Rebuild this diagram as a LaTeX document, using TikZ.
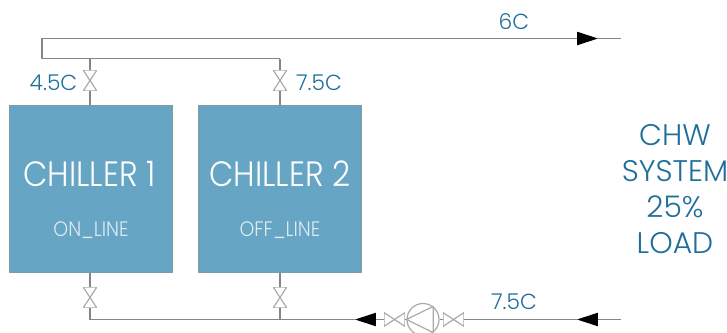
\documentclass[tikz,border=0pt]{standalone}
\usepackage{fontspec}
\setmainfont{Poppins Light}
\newfontfamily\chillerfont{Poppins Light}[FakeStretch=0.9]
\usetikzlibrary{arrows.meta}
\definecolor{chillerblue}{HTML}{66A5C4}
\definecolor{chilleredge}{HTML}{7F99A8}
\definecolor{labelteal}{HTML}{1F6E9A}
\definecolor{pipegrey}{HTML}{858585}
\definecolor{valvegrey}{HTML}{ABABAB}
\definecolor{statuspale}{HTML}{DCEBF3}

\begin{document}
\begin{tikzpicture}[
  x=0.25mm,
  y=-0.25mm,
  line join=round,
  pipe/.style={draw=pipegrey,line width=0.3mm},
  flow/.style={pipe,-{Triangle[length=5.2mm,width=3.3mm,black]}},
  chiller/.style={draw=chilleredge,line width=0.25mm,fill=chillerblue,minimum width=40.75mm,minimum height=41.75mm,inner sep=0pt},
  valvev/.style={minimum width=3.4mm,minimum height=5.2mm,inner sep=0pt,path picture={
    \draw[valvegrey,line width=0.3mm] (path picture bounding box.south west) -- (path picture bounding box.north east)
      -- (path picture bounding box.north west) -- (path picture bounding box.south east) -- cycle;}},
  valveh/.style={minimum width=5.2mm,minimum height=3.4mm,inner sep=0pt,path picture={
    \draw[valvegrey,line width=0.3mm] (path picture bounding box.south west) -- (path picture bounding box.north east)
      -- (path picture bounding box.south east) -- (path picture bounding box.north west) -- cycle;}},
  pumpbody/.style={circle,draw=valvegrey,line width=0.3mm,minimum size=8mm,inner sep=0pt},
  templabel/.style={text=labelteal,font=\fontsize{15.5}{18}\selectfont,inner sep=0pt},
  titletext/.style={text=white,font=\chillerfont\fontsize{25}{29}\selectfont,inner sep=0pt},
  statustext/.style={text=statuspale,font=\chillerfont\fontsize{14.9}{17}\selectfont,inner sep=0pt},
  loadtext/.style={text=labelteal,font=\fontsize{21.2}{25.6}\selectfont,align=center,inner sep=0pt}
]
  % Same frame as the original artwork.
  \useasboundingbox (0,0) rectangle (727,333);

  % Chillers.
  \node[chiller] (chiller1) at (91,188.5) {};
  \node[chiller] (chiller2) at (280,188.5) {};
  \node[titletext] (title1) at (89.5,174) {CHILLER 1};
  \node[titletext] (title2) at (280,174) {CHILLER 2};
  \node[statustext] (status1) at (91,230) {ON\_LINE};
  \node[statustext] (status2) at (280,230) {OFF\_LINE};

  % Valves above and below the chillers.
  \node[valvev] (valve1top) at (90,80.5) {};
  \node[valvev] (valve2top) at (280,80.5) {};
  \node[valvev] (valve1bot) at (90,297.5) {};
  \node[valvev] (valve2bot) at (280,297.5) {};

  % Pump set on the return line.
  \node[pumpbody] (pump) at (423,319.5) {};
  \node[valveh] (valvein) at (453.5,319.5) {};
  \node[valveh] (valveout) at (394.5,319.5) {};
  \draw[draw=valvegrey,line width=0.3mm] (pump.west) -- (pump.52) -- (pump.-52) -- cycle;

  % Corners and ends of the pipework.
  \coordinate (supplyLeft) at (42,38.5);
  \coordinate (headerLeft) at (42,58.5);
  \coordinate (header1) at (90,58.5);
  \coordinate (header2) at (280,58.5);
  \coordinate (supplyTip) at (598,38.5);
  \coordinate (supplyEnd) at (621,38.5);
  \coordinate (return1) at (90,319.5);
  \coordinate (return2) at (280,319.5);
  \coordinate (returnEnd) at (621,319.5);
  \coordinate (returnTip) at (577,319.5);
  \coordinate (pumpTip) at (355,319.5);

  % Supply side.
  \draw[pipe] (header1) -- (valve1top);
  \draw[pipe] (valve1top) -- (chiller1.north -| valve1top);
  \draw[pipe] (header2) -- (valve2top);
  \draw[pipe] (valve2top) -- (chiller2.north);
  \draw[flow] (header2) -- (headerLeft) -- (supplyLeft) -- (supplyTip);
  \draw[pipe] (supplyTip) -- (supplyEnd);

  % Return side.
  \draw[pipe] (chiller1.south -| valve1bot) -- (valve1bot);
  \draw[pipe] (valve1bot) -- (return1);
  \draw[pipe] (chiller2.south) -- (valve2bot);
  \draw[pipe] (valve2bot) -- (return2);
  \draw[flow] (returnEnd) -- (returnTip);
  \draw[pipe] (returnTip) -- (valvein);
  \draw[pipe] (valvein) -- (pump);
  \draw[pipe] (pump) -- (valveout);
  \draw[flow] (valveout) -- (pumpTip);
  \draw[pipe] (pumpTip) -- (return2) -- (return1);

  % Temperatures.
  \node[templabel] (tempSupply) at (514,22) {6C};
  \node[templabel] (tempOne) at (53.5,83) {4.5C};
  \node[templabel] (tempTwo) at (319,83) {7.5C};
  \node[templabel] (tempReturn) at (514,302) {7.5C};

  % Load note.
  \node[loadtext] (load) at (675,189) {CHW\\SYSTEM\\25\%\\LOAD};
\end{tikzpicture}
\end{document}
